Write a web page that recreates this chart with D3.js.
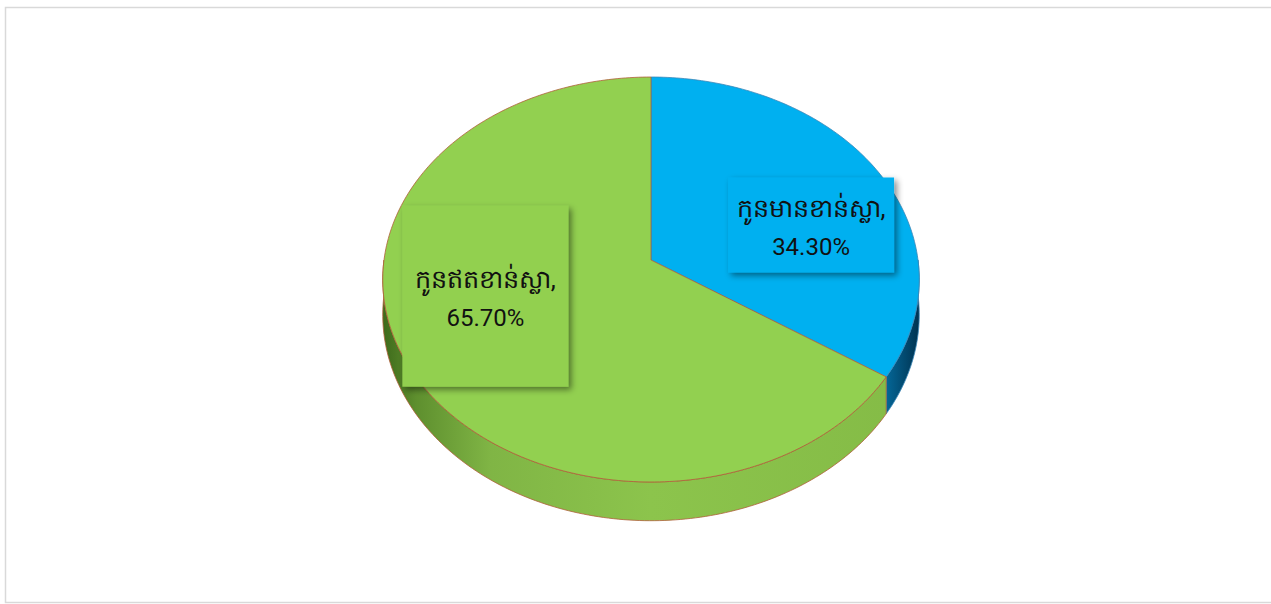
<!DOCTYPE html>
<html>
<head>
<meta charset="utf-8">
<script src="https://cdn.jsdelivr.net/npm/d3@7"></script>
<style>
  body { margin: 0; background: #fff; }
  svg { display: block; }
  .pie-label { font-family: Roboto, "Noto Sans", sans-serif; font-size: 24px; fill: #111; }
  .pie-label.khmer { font-size: 25.5px; }
</style>
</head>
<body>
<script>
// data
var categories = ["កូនមានខាន់ស្លា", "កូនឥតខាន់ស្លា"];
var values = [34.3, 65.7];
var valueLabels = ["34.30%", "65.70%"];

// styles
var topColors = ["#00b0f0", "#92d050"];
var strokeColors = ["#3a86b8", "#b0603a"];
var boxHeights = [95, 181];

var width = 1271, height = 604;

var svg = d3.select("body").append("svg")
    .attr("width", width)
    .attr("height", height);

// chart frame
svg.append("rect")
    .attr("x", 5.5)
    .attr("y", 7.5)
    .attr("width", width)
    .attr("height", height - 9)
    .attr("fill", "#fff")
    .attr("stroke", "#d9d9d9")
    .attr("stroke-width", 1.5);

var defs = svg.append("defs");

// pie geometry (projected, slight perspective)
var cx = 651, cy = 260, rx = 267, ry = 200.6, persp = 0.0963, depth = 35;

function proj(a, r, z)
{
    var u = r * Math.sin(a), v = -r * Math.cos(a);
    var d = 1 - persp * v;
    return [cx + rx * u / d, cy + ry * v / d + z * depth / d];
}

// side gradients
var g0 = defs.append("linearGradient")
    .attr("id", "side0")
    .attr("gradientUnits", "userSpaceOnUse")
    .attr("x1", cx - rx).attr("x2", cx + rx).attr("y1", 0).attr("y2", 0);
[[0, "#0a9ad8"], [0.8, "#0a93cf"], [0.93, "#056fa3"], [1, "#003452"]].forEach(function(s) {
    g0.append("stop").attr("offset", s[0]).attr("stop-color", s[1]);
});

var g1 = defs.append("linearGradient")
    .attr("id", "side1")
    .attr("gradientUnits", "userSpaceOnUse")
    .attr("x1", cx - rx).attr("x2", cx + rx).attr("y1", 0).attr("y2", 0);
[[0, "#3f6b1c"], [0.06, "#5e8f2e"], [0.2, "#80b545"], [0.5, "#8cc44c"], [1, "#84bb46"]].forEach(function(s) {
    g1.append("stop").attr("offset", s[0]).attr("stop-color", s[1]);
});

var shadow = defs.append("filter")
    .attr("id", "shadow")
    .attr("x", "-20%").attr("y", "-20%")
    .attr("width", "150%").attr("height", "150%");
shadow.append("feDropShadow")
    .attr("dx", 3)
    .attr("dy", 3)
    .attr("stdDeviation", 3)
    .attr("flood-color", "#000")
    .attr("flood-opacity", 0.45);

var pie = d3.pie().sort(null).startAngle(0).endAngle(2 * Math.PI);
var arcs = pie(values);

function arcPoints(a0, a1, z)
{
    var n = Math.max(2, Math.ceil((a1 - a0) / (Math.PI / 180)));
    var pts = [];
    for (var i = 0; i <= n; i++) pts.push(proj(a0 + (a1 - a0) * i / n, 1, z));
    return pts;
}

var line = d3.line();

// sides (front half only)
var sides = svg.append("g").attr("class", "pie-sides");
arcs.forEach(function(d, i) {
    var a0 = Math.max(d.startAngle, Math.PI / 2);
    var a1 = Math.min(d.endAngle, 3 * Math.PI / 2);
    if (a1 <= a0) return;
    var pts = arcPoints(a0, a1, 0).concat(arcPoints(a0, a1, 1).reverse());
    sides.append("path")
        .attr("d", line(pts) + "Z")
        .attr("fill", "url(#side" + i + ")")
        .attr("stroke", strokeColors[i])
        .attr("stroke-width", 0.8);
});

// top faces
var tops = svg.append("g").attr("class", "pie-tops");
arcs.forEach(function(d, i) {
    var pts = [proj(0, 0, 0)].concat(arcPoints(d.startAngle, d.endAngle, 0));
    tops.append("path")
        .attr("d", line(pts) + "Z")
        .attr("fill", topColors[i])
        .attr("stroke", strokeColors[i])
        .attr("stroke-width", 0.8);
});

// data labels
var boxW = 166;
var labels = svg.append("g").attr("class", "pie-labels");
arcs.forEach(function(d, i) {
    var mid = (d.startAngle + d.endAngle) / 2 + 0.21;
    var c = proj(mid, 0.635, 0);
    var h = boxHeights[i];
    labels.append("rect")
        .attr("x", c[0] - boxW / 2)
        .attr("y", c[1] - h / 2)
        .attr("width", boxW)
        .attr("height", h)
        .attr("fill", topColors[i])
        .attr("filter", "url(#shadow)");
    labels.append("text")
        .attr("class", "pie-label khmer")
        .attr("x", c[0])
        .attr("y", c[1] - 8)
        .attr("text-anchor", "middle")
        .text(categories[i] + ",");
    labels.append("text")
        .attr("class", "pie-label")
        .attr("x", c[0])
        .attr("y", c[1] + 30)
        .attr("text-anchor", "middle")
        .text(valueLabels[i]);
});
</script>
</body>
</html>
